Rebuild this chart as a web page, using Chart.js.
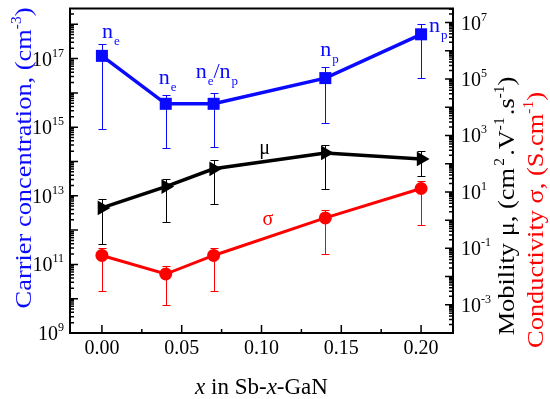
<!DOCTYPE html>
<html>
<head>
<meta charset="utf-8">
<script src="https://cdn.jsdelivr.net/npm/chart.js@4/dist/chart.umd.min.js"></script>
<style>
  html, body { margin: 0; padding: 0; background: #fff; }
  #wrap { width: 550px; height: 399px; }
</style>
</head>
<body>
<div id="wrap"><canvas id="c" width="550" height="399"></canvas></div>
<script>
// Data
const xVals = [0.00, 0.04, 0.07, 0.14, 0.20];

const carrier   = [1.2e17, 4.8e15, 4.8e15, 2.7e16, 5.1e17];
const carrierHi = [2.7e17, 8.7e15, 1.0e16, 5.5e16, 1.0e18];
const carrierLo = [9.1e14, 2.5e14, 2.6e14, 1.3e15, 2.8e16];
const carrierType = [['e'], ['e'], ['e', 'p'], ['p'], ['p']];

const mobility   = [2.7, 15.5, 66, 240, 148];
const mobilityHi = [5.5, 29.5, 135, 457, 282];
const mobilityLo = [0.138, 0.87, 3.7, 12.3, 38];

const sigma   = [0.056, 0.0123, 0.056, 1.2, 13.2];
const sigmaHi = [0.10, 0.0234, 0.107, 2.3, 25];
const sigmaLo = [0.003, 0.001, 0.003, 0.062, 0.68];

const xTicks = [0, 0.05, 0.10, 0.15, 0.20];
const xTickLabels = ['0.00', '0.05', '0.10', '0.15', '0.20'];
const leftExps = [9, 11, 13, 15, 17];
const rightExps = [-3, -1, 1, 3, 5, 7];

const BLUE = '#0a0aff';
const RED = '#ff0000';
const SERIF = '"Liberation Serif", "DejaVu Serif", serif';

function pts(ys) { return xVals.map((x, i) => ({ x, y: ys[i] })); }

// text with superscripts / subscripts
function richWidth(ctx, runs) {
  let w = 0;
  runs.forEach(r => { ctx.font = r.font; w += ctx.measureText(r.t).width + (r.gap || 0); });
  return w;
}
function drawRich(ctx, runs, x, y, align, color) {
  const w = richWidth(ctx, runs);
  let cx = align === 'center' ? x - w / 2 : align === 'right' ? x - w : x;
  ctx.textAlign = 'left';
  ctx.textBaseline = 'alphabetic';
  runs.forEach(r => {
    ctx.font = r.font;
    ctx.fillStyle = r.color || color || '#000';
    ctx.fillText(r.t, cx, y + (r.dy || 0));
    cx += ctx.measureText(r.t).width + (r.gap || 0);
  });
}
const F = (size, style) => (style ? style + ' ' : '') + size + 'px ' + SERIF;

// vertical title, reading bottom to top, slightly stretched like the original
function drawVertical(ctx, runs, x, y, color) {
  ctx.save();
  ctx.translate(x, y);
  ctx.rotate(-Math.PI / 2);
  ctx.scale(1.1, 1);
  drawRich(ctx, runs, 0, 0, 'center', color);
  ctx.restore();
}

const errorBars = {
  id: 'errorBars',
  beforeDatasetsDraw(chart) {
    const ctx = chart.ctx;
    const sx = chart.scales.x;
    const sets = [
      [chart.scales.yL, carrierLo, carrierHi, BLUE],
      [chart.scales.yR, mobilityLo, mobilityHi, '#000'],
      [chart.scales.yR, sigmaLo, sigmaHi, RED]
    ];
    ctx.save();
    ctx.lineWidth = 1;
    sets.forEach(([sy, lo, hi, col]) => {
      ctx.strokeStyle = col;
      xVals.forEach((x, i) => {
        const px = Math.round(sx.getPixelForValue(x)) + 0.5;
        const y1 = Math.round(sy.getPixelForValue(lo[i])) + 0.5;
        const y2 = Math.round(sy.getPixelForValue(hi[i])) + 0.5;
        ctx.beginPath();
        ctx.moveTo(px, y1); ctx.lineTo(px, y2);
        ctx.moveTo(px - 4, y1); ctx.lineTo(px + 4, y1);
        ctx.moveTo(px - 4, y2); ctx.lineTo(px + 4, y2);
        ctx.stroke();
      });
    });
    ctx.restore();
  }
};

function logTicks(scale) {
  const out = [];
  const lo = Math.floor(Math.log10(scale.min)), hi = Math.ceil(Math.log10(scale.max));
  for (let e = lo; e <= hi; e++) {
    for (let k = 1; k <= 9; k++) {
      const v = k * Math.pow(10, e);
      if (v >= scale.min * 0.999 && v <= scale.max) out.push({ v, major: k === 1 });
    }
  }
  return out;
}

const frame = {
  id: 'frame',
  afterDraw(chart) {
    const ctx = chart.ctx;
    const a = chart.chartArea;
    const sx = chart.scales.x, yL = chart.scales.yL, yR = chart.scales.yR;
    ctx.save();

    // axis ticks (inside)
    ctx.strokeStyle = '#000';
    ctx.lineWidth = 1.5;
    ctx.beginPath();
    for (let t = -0.025; t <= 0.2251; t += 0.025) {
      const v = Math.round(t * 1000) / 1000;
      if (v < sx.min || v > sx.max) continue;
      const px = sx.getPixelForValue(v);
      const major = Math.abs(v / 0.05 - Math.round(v / 0.05)) < 1e-6;
      ctx.moveTo(px, a.bottom); ctx.lineTo(px, a.bottom - (major ? 8 : 4));
    }
    logTicks(yL).forEach(t => {
      const py = yL.getPixelForValue(t.v);
      ctx.moveTo(a.left, py); ctx.lineTo(a.left + (t.major ? 8 : 4), py);
    });
    logTicks(yR).forEach(t => {
      const py = yR.getPixelForValue(t.v);
      ctx.moveTo(a.right, py); ctx.lineTo(a.right - (t.major ? 8 : 4), py);
    });
    ctx.stroke();

    // frame
    ctx.lineWidth = 2;
    ctx.strokeRect(a.left, a.top, a.right - a.left, a.bottom - a.top);

    // tick labels
    xTicks.forEach((v, i) => {
      drawRich(ctx, [{ t: xTickLabels[i], font: F(20) }], sx.getPixelForValue(v), a.bottom + 21, 'center');
    });
    leftExps.forEach(e => {
      const py = yL.getPixelForValue(Math.pow(10, e));
      drawRich(ctx, [{ t: '10', font: F(20) }, { t: String(e), font: F(12), dy: -9 }], a.left - 6, py + 7, 'right');
    });
    rightExps.forEach(e => {
      const py = yR.getPixelForValue(Math.pow(10, e));
      drawRich(ctx, [{ t: '10', font: F(20) }, { t: String(e), font: F(12), dy: -9 }], a.right + 8, py + 7, 'left');
    });

    // axis titles
    drawRich(ctx, [
      { t: 'x', font: F(23, 'italic') }, { t: ' in Sb-', font: F(23) },
      { t: 'x', font: F(23, 'italic') }, { t: '-GaN', font: F(23) }
    ], (a.left + a.right) / 2, 394, 'center');

    drawVertical(ctx, [
      { t: 'Carrier concentration, (cm', font: F(24) },
      { t: '-3', font: F(14), dy: -10 },
      { t: ')', font: F(24) }
    ], 31, 158, BLUE);

    drawVertical(ctx, [
      { t: 'Mobility \u03bc, (cm', font: F(24), gap: 2 },
      { t: '2', font: F(14), dy: -10, gap: 2 },
      { t: '.V', font: F(24) },
      { t: '-1', font: F(14), dy: -10, gap: 2 },
      { t: '.s', font: F(24) },
      { t: '-1', font: F(14), dy: -10 },
      { t: ')', font: F(24) }
    ], 514, 206, '#000');

    drawVertical(ctx, [
      { t: 'Conductivity \u03c3, (S.cm', font: F(24) },
      { t: '-1', font: F(14), dy: -10 },
      { t: ')', font: F(24) }
    ], 543, 220, RED);

    // carrier type labels next to each point
    const offs = [[0, -18], [-7, -20], [-18, -26], [-5, -22], [8, -2]];
    carrierType.forEach((types, i) => {
      const px = sx.getPixelForValue(xVals[i]) + offs[i][0];
      const py = yL.getPixelForValue(carrier[i]) + offs[i][1];
      const runs = [];
      types.forEach((s, j) => {
        if (j > 0) runs.push({ t: '/', font: F(22) });
        runs.push({ t: 'n', font: F(22), gap: 1 });
        runs.push({ t: s, font: F(13), dy: 7 });
      });
      drawRich(ctx, runs, px, py, 'left', BLUE);
    });

    // series labels
    ctx.textAlign = 'center';
    ctx.textBaseline = 'middle';
    ctx.font = F(20);
    ctx.fillStyle = '#000';
    ctx.fillText('\u03bc', sx.getPixelForValue(0.102), yR.getPixelForValue(350));
    ctx.fillStyle = RED;
    ctx.fillText('\u03c3', sx.getPixelForValue(0.104), yR.getPixelForValue(1));

    ctx.restore();
  }
};

new Chart(document.getElementById('c'), {
  type: 'line',
  data: {
    datasets: [
      {
        label: 'carrier', data: pts(carrier), yAxisID: 'yL',
        borderColor: BLUE, backgroundColor: BLUE, borderWidth: 3.5,
        pointStyle: 'rect', pointRadius: 8.5, pointBorderWidth: 0, tension: 0, clip: false
      },
      {
        label: 'mobility', data: pts(mobility), yAxisID: 'yR',
        borderColor: '#000', backgroundColor: '#000', borderWidth: 3.5,
        pointStyle: 'triangle', rotation: 90, pointRadius: 8.5, pointBorderWidth: 0, tension: 0, clip: false
      },
      {
        label: 'sigma', data: pts(sigma), yAxisID: 'yR',
        borderColor: RED, backgroundColor: RED, borderWidth: 3,
        pointStyle: 'circle', pointRadius: 6.5, pointBorderWidth: 0, tension: 0, clip: false
      }
    ]
  },
  options: {
    responsive: false,
    animation: false,
    devicePixelRatio: 1,
    layout: { padding: { left: 70, right: 97, top: 3, bottom: 66 } },
    plugins: { legend: { display: false }, tooltip: { enabled: false } },
    scales: {
      x: { type: 'linear', min: -0.02, max: 0.22, display: false },
      yL: { type: 'logarithmic', position: 'left', min: 1e9, max: Math.pow(10, 18.46), display: false },
      yR: { type: 'logarithmic', position: 'right', min: 1e-4, max: Math.pow(10, 7.5), display: false }
    }
  },
  plugins: [errorBars, frame]
});
</script>
</body>
</html>
